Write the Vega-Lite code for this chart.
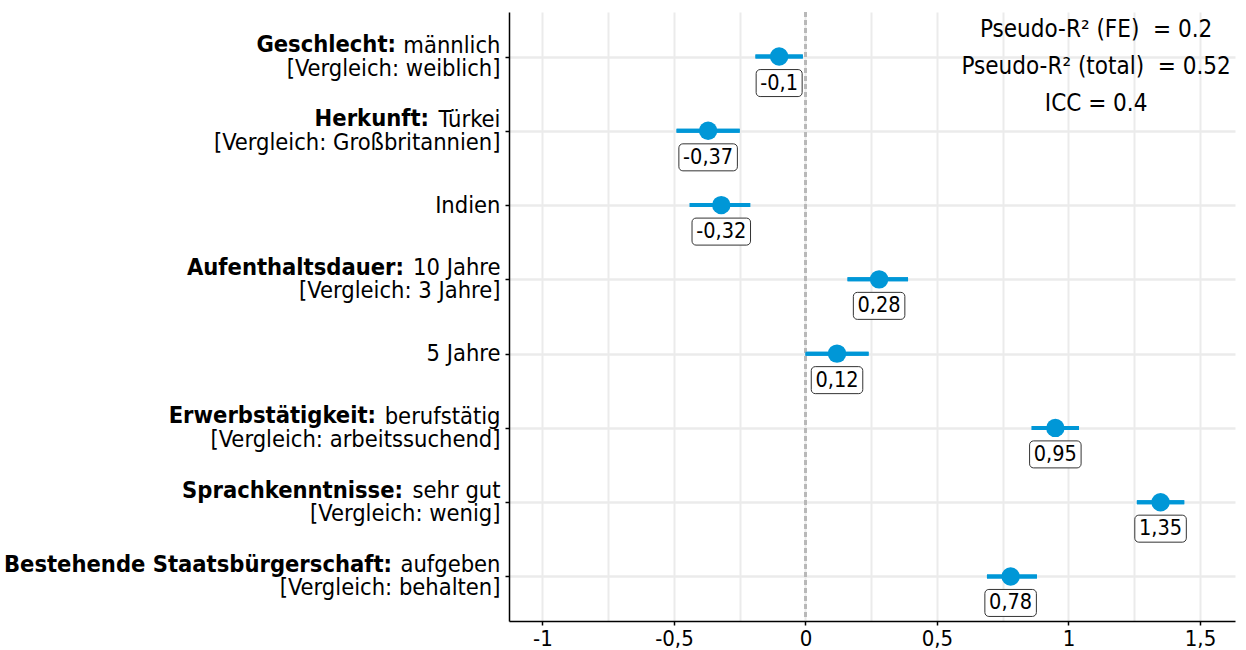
{
  "$schema": "https://vega.github.io/schema/vega-lite/v6.json",
  "width": 726,
  "height": 609,
  "autosize": {"type": "none"},
  "padding": {"left": 509, "top": 12, "right": 11, "bottom": 29},
  "background": "white",
  "config": {"view": {"stroke": null}, "font": "DejaVu Sans Condensed"},
  "datasets": {
    "coef": [
      {"term": "Geschlecht: männlich\n[Vergleich: weiblich]", "group": "Geschlecht:", "est": -0.10, "lo": -0.19, "hi": -0.01},
      {"term": "Herkunft: Türkei\n[Vergleich: Großbritannien]", "group": "Herkunft:", "est": -0.37, "lo": -0.49, "hi": -0.25},
      {"term": "Indien", "group": "", "est": -0.32, "lo": -0.44, "hi": -0.21},
      {"term": "Aufenthaltsdauer: 10 Jahre\n[Vergleich: 3 Jahre]", "group": "Aufenthaltsdauer:", "est": 0.28, "lo": 0.16, "hi": 0.39},
      {"term": "5 Jahre", "group": "", "est": 0.12, "lo": 0.0, "hi": 0.24},
      {"term": "Erwerbstätigkeit: berufstätig\n[Vergleich: arbeitssuchend]", "group": "Erwerbstätigkeit:", "est": 0.95, "lo": 0.86, "hi": 1.04},
      {"term": "Sprachkenntnisse: sehr gut\n[Vergleich: wenig]", "group": "Sprachkenntnisse:", "est": 1.35, "lo": 1.26, "hi": 1.44},
      {"term": "Bestehende Staatsbürgerschaft: aufgeben\n[Vergleich: behalten]", "group": "Bestehende Staatsbürgerschaft:", "est": 0.78, "lo": 0.69, "hi": 0.88}
    ],
    "fit": [
      {"stat": "Pseudo-R² (FE)", "value": 0.2},
      {"stat": "Pseudo-R² (total)", "value": 0.52},
      {"stat": "ICC", "value": 0.4}
    ]
  },
  "layer": [
    {
      "data": {"name": "coef"},
      "transform": [
        {"calculate": "replace(toString(datum.est), '.', ',')", "as": "lab"},
        {"calculate": "(indexof(datum.lab, '-') >= 0 ? 7 : 0) + 12.5 * (length(datum.lab) - (indexof(datum.lab, '-') >= 0 ? 2 : 1)) + 14", "as": "bw"},
        {"calculate": "datum.est - datum.bw / 526", "as": "bx1"},
        {"calculate": "datum.est + datum.bw / 526", "as": "bx2"}
      ],
      "layer": [
        {
          "mark": {"type": "rule", "color": "#0097d7", "strokeWidth": 4},
          "encoding": {
            "y": {
              "field": "term", "type": "nominal", "sort": null,
              "scale": {"type": "point", "padding": 0.6},
              "axis": {
                "title": null,
                "labelExpr": "split(replace(datum.value, /^[^:\\n]+: /, ''), '\\n')",
                "labelOffset": {"condition": {"test": "indexof(datum.value, '\\n') >= 0", "value": -11.5}, "value": 0},
                "labelFontSize": 23.5,
                "labelLineHeight": 23,
                "labelLimit": 1000,
                "labelPadding": 5,
                "labelColor": "black",
                "tickSize": 4,
                "tickColor": "black",
                "tickWidth": 1.5,
                "domainColor": "black",
                "domainWidth": 1.5,
                "grid": true,
                "gridColor": "#ebebeb",
                "gridWidth": 2.5
              }
            },
            "x": {
              "field": "lo", "type": "quantitative",
              "scale": {"domain": [-1.127, 1.633], "nice": false, "zero": false},
              "axis": {
                "title": null,
                "values": [-1, -0.75, -0.5, -0.25, 0, 0.25, 0.5, 0.75, 1, 1.25, 1.5],
                "labelExpr": "datum.value % 0.5 == 0 ? replace(toString(datum.value), '.', ',') : ''",
                "labelOverlap": false,
                "labelFlush": false,
                "labelFontSize": 22,
                "labelPadding": 3,
                "labelColor": "black",
                "tickSize": 4,
                "tickColor": "black",
                "tickWidth": 1.5,
                "tickOpacity": {"condition": {"test": "datum.value % 0.5 != 0", "value": 0}, "value": 1},
                "domainColor": "black",
                "domainWidth": 1.5,
                "grid": true,
                "gridColor": "#ebebeb",
                "gridWidth": 2
              }
            },
            "x2": {"field": "hi"}
          }
        },
        {
          "mark": {"type": "rule", "color": "#b8b8b8", "strokeDash": [5, 3], "strokeWidth": 2},
          "encoding": {"x": {"datum": 0, "type": "quantitative"}}
        },
        {
          "mark": {"type": "rule", "color": "#0097d7", "strokeWidth": 4},
          "encoding": {
            "y": {"field": "term", "type": "nominal", "sort": null},
            "x": {"field": "lo", "type": "quantitative"},
            "x2": {"field": "hi"}
          }
        },
        {
          "mark": {"type": "point", "filled": true, "opacity": 1, "size": 340, "color": "#0097d7"},
          "encoding": {
            "y": {"field": "term", "type": "nominal", "sort": null},
            "x": {"field": "est", "type": "quantitative"}
          }
        },
        {
          "mark": {"type": "rect", "height": 27, "yOffset": 26.5, "fill": "white", "stroke": "#333333", "strokeWidth": 1, "cornerRadius": 4},
          "encoding": {
            "y": {"field": "term", "type": "nominal", "sort": null},
            "x": {"field": "bx1", "type": "quantitative"},
            "x2": {"field": "bx2"}
          }
        },
        {
          "mark": {"type": "text", "dy": 27, "fontSize": 21.5, "color": "black", "baseline": "middle", "align": "center"},
          "encoding": {
            "y": {"field": "term", "type": "nominal", "sort": null},
            "x": {"field": "est", "type": "quantitative"},
            "text": {"field": "lab"}
          }
        },
        {
          "transform": [{"filter": "datum.group == 'Geschlecht:'"}],
          "mark": {"type": "text", "fontWeight": "bold", "fontSize": 23.5, "color": "black", "align": "right", "baseline": "middle", "dy": -11.5, "dx": -113},
          "encoding": {"y": {"field": "term", "type": "nominal", "sort": null}, "x": {"datum": -1.127, "type": "quantitative"}, "text": {"field": "group"}}
        },
        {
          "transform": [{"filter": "datum.group == 'Herkunft:'"}],
          "mark": {"type": "text", "fontWeight": "bold", "fontSize": 23.5, "color": "black", "align": "right", "baseline": "middle", "dy": -11.5, "dx": -80},
          "encoding": {"y": {"field": "term", "type": "nominal", "sort": null}, "x": {"datum": -1.127, "type": "quantitative"}, "text": {"field": "group"}}
        },
        {
          "transform": [{"filter": "datum.group == 'Aufenthaltsdauer:'"}],
          "mark": {"type": "text", "fontWeight": "bold", "fontSize": 23.5, "color": "black", "align": "right", "baseline": "middle", "dy": -11.5, "dx": -105},
          "encoding": {"y": {"field": "term", "type": "nominal", "sort": null}, "x": {"datum": -1.127, "type": "quantitative"}, "text": {"field": "group"}}
        },
        {
          "transform": [{"filter": "datum.group == 'Erwerbstätigkeit:'"}],
          "mark": {"type": "text", "fontWeight": "bold", "fontSize": 23.5, "color": "black", "align": "right", "baseline": "middle", "dy": -11.5, "dx": -133},
          "encoding": {"y": {"field": "term", "type": "nominal", "sort": null}, "x": {"datum": -1.127, "type": "quantitative"}, "text": {"field": "group"}}
        },
        {
          "transform": [{"filter": "datum.group == 'Sprachkenntnisse:'"}],
          "mark": {"type": "text", "fontWeight": "bold", "fontSize": 23.5, "color": "black", "align": "right", "baseline": "middle", "dy": -11.5, "dx": -106},
          "encoding": {"y": {"field": "term", "type": "nominal", "sort": null}, "x": {"datum": -1.127, "type": "quantitative"}, "text": {"field": "group"}}
        },
        {
          "transform": [{"filter": "datum.group == 'Bestehende Staatsbürgerschaft:'"}],
          "mark": {"type": "text", "fontWeight": "bold", "fontSize": 23.5, "color": "black", "align": "right", "baseline": "middle", "dy": -11.5, "dx": -117},
          "encoding": {"y": {"field": "term", "type": "nominal", "sort": null}, "x": {"datum": -1.127, "type": "quantitative"}, "text": {"field": "group"}}
        }
      ]
    },
    {
      "data": {"name": "fit"},
      "transform": [{"calculate": "datum.stat + (datum.stat == 'ICC' ? ' = ' : ' \u00a0= ') + toString(datum.value)", "as": "txt"}],
      "mark": {"type": "text", "fontSize": 24, "align": "center", "baseline": "middle", "color": "black"},
      "encoding": {
        "x": {"datum": 1.105, "type": "quantitative"},
        "y": {"field": "stat", "type": "nominal", "sort": null, "scale": {"type": "point", "range": [18, 92], "padding": 0}, "axis": null},
        "text": {"field": "txt"}
      }
    }
  ],
  "resolve": {"scale": {"y": "independent"}}
}
